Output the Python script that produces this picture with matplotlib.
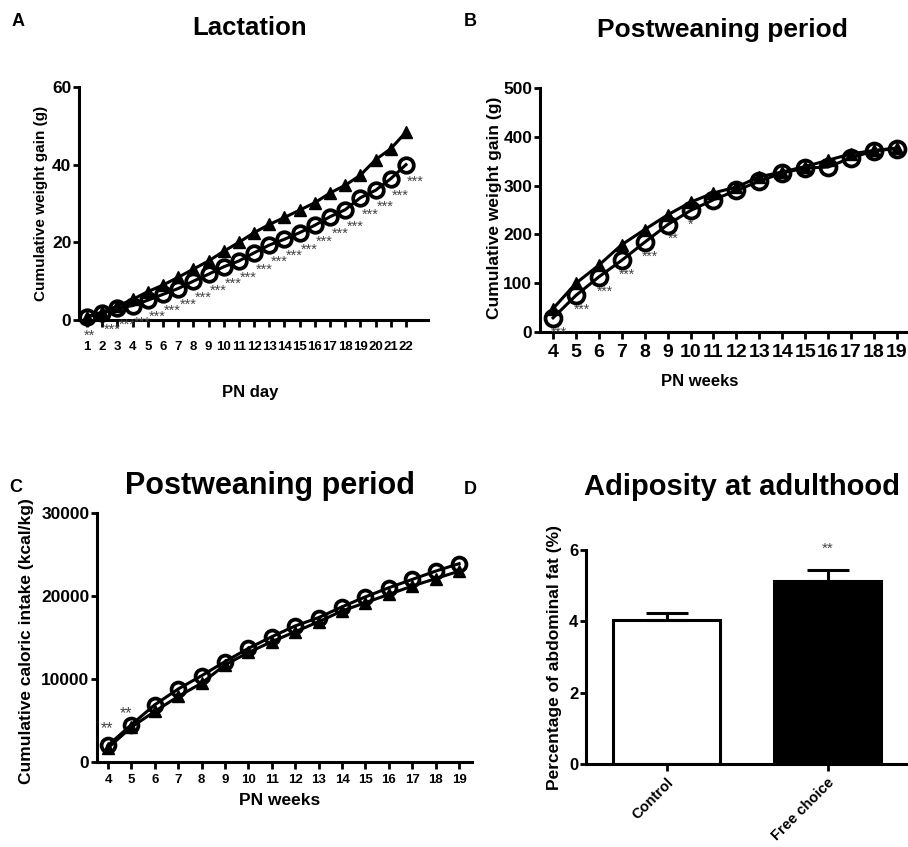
import numpy as np
import matplotlib
matplotlib.use("Agg")
import matplotlib.pyplot as plt

plt.rcParams['font.family'] = ['Liberation Sans', 'DejaVu Sans']
plt.rcParams['font.weight'] = 'bold'

#-------------------- data --------------------

# A: lactation, cumulative weight gain (g)
days = np.arange(1, 23)
lact_ctrl = [0.8, 1.7, 3.0, 3.7, 5.1, 6.6, 8.1, 10.0, 11.8, 13.7, 15.2, 17.3,
             19.3, 20.8, 22.5, 24.4, 26.6, 28.4, 31.5, 33.4, 36.4, 40.0]
lact_free = [0.9, 2.0, 3.6, 5.3, 7.3, 9.0, 11.0, 13.1, 15.2, 17.7, 20.0, 22.5,
             24.6, 26.4, 28.3, 30.2, 32.7, 34.7, 37.3, 41.3, 44.1, 48.4]
lact_sig = ['**'] + ['***'] * 21

# B: postweaning weight gain (g)
weeks = np.arange(4, 20)
pw_ctrl = [29, 75, 113, 147, 184, 220, 249, 271, 290, 309, 326, 336, 338, 357, 371, 376]
pw_free = [48, 100, 137, 179, 210, 240, 266, 285, 297, 318, 328, 339, 352, 365, 372, 377]
pw_sig = ['***', '***', '***', '***', '***', '**', '*']

# C: postweaning caloric intake (kcal/kg)
kcal_ctrl = [2000, 4500, 6900, 8800, 10400, 12100, 13700, 15100, 16400, 17400,
             18700, 19900, 21000, 22000, 23000, 23900]
kcal_free = [1700, 4200, 6100, 7900, 9500, 11700, 13200, 14500, 15700, 16900,
             18200, 19200, 20200, 21200, 22100, 23000]
kcal_sig = ['**', '**']

# D: adiposity
groups = ['Control', 'Free choice']
fat = [4.05, 5.12]
fat_sem = [0.17, 0.32]
fat_sig = ['', '**']

W, H = 908, 847
STAR = '#444444'

def box(l, t, r, b):
    return [l / W, 1 - b / H, (r - l) / W, (b - t) / H]

def ftext(x, y, s, **kw):
    fig.text(x / W, 1 - y / H, s, ha='center', va='center', **kw)

def style(ax):
    for s in ['top', 'right']:
        ax.spines[s].set_visible(False)
    for s in ['left', 'bottom']:
        ax.spines[s].set_linewidth(2.2)
    ax.tick_params(width=2, length=5, direction='out')
    ax.tick_params(axis='y', length=4, pad=1.5)

def lines(ax, x, c, f, ms_c=11, ms_t=9):
    ax.plot(x, f, '-^', color='black', lw=2.2, ms=ms_t, clip_on=False, zorder=3)
    ax.plot(x, c, '-o', color='black', lw=2.2, ms=ms_c, mfc='none', mew=2.7,
            clip_on=False, zorder=4)

fig = plt.figure(figsize=(W / 100, H / 100), dpi=100)

#-------------------- A --------------------
axA = fig.add_axes(box(79, 87, 428, 320))
style(axA)
lines(axA, days, lact_ctrl, lact_free, ms_c=10.5, ms_t=8.5)
axA.set_xlim(0.47, 23.45)
axA.set_ylim(0, 60)
axA.set_xticks(days)
axA.set_xticklabels([str(d) for d in days], fontsize=9.5, fontweight='bold')
axA.set_yticks([0, 20, 40, 60])
axA.tick_params(axis='y', labelsize=12.5)
axA.tick_params(axis='x', pad=10)
for d, v, s in zip(days, lact_ctrl, lact_sig):
    off = (7, -12) if s == '***' else (1.5, -13.5)
    axA.annotate(s, (d, v), xytext=off, textcoords='offset points',
                 ha='center', va='center', fontsize=10.5, color=STAR, fontweight='normal')
ftext(41, 203, 'Cumulative weight gain (g)', rotation=90, fontsize=11)
ftext(250, 392, 'PN day', fontsize=12)
ftext(250, 28, 'Lactation', fontsize=18.5)
ftext(18, 21, 'A', fontsize=13)

#-------------------- B --------------------
axB = fig.add_axes(box(540, 88, 906, 332))
style(axB)
lines(axB, weeks, pw_ctrl, pw_free, ms_c=11.5, ms_t=9)
axB.set_xlim(3.43, 19.4)
axB.set_ylim(0, 500)
axB.set_xticks(weeks)
axB.tick_params(axis='x', labelsize=14)
axB.tick_params(axis='y', labelsize=12.5)
for w, v, s in zip(weeks, pw_ctrl, pw_sig):
    dx = 0 if s == '*' else 4
    axB.annotate(s, (w, v), xytext=(dx, -10.5), textcoords='offset points',
                 ha='center', va='center', fontsize=10, color=STAR, fontweight='normal')
ftext(495, 208, 'Cumulative weight gain (g)', rotation=90, fontsize=12.5)
ftext(700, 381, 'PN weeks', fontsize=12)
ftext(722, 30, 'Postweaning period', fontsize=19)
ftext(470, 21, 'B', fontsize=13)

#-------------------- C --------------------
axC = fig.add_axes(box(97, 513, 472, 762))
style(axC)
lines(axC, weeks, kcal_ctrl, kcal_free, ms_c=10, ms_t=8)
axC.set_xlim(3.53, 19.55)
axC.set_ylim(0, 30000)
axC.set_xticks(weeks)
axC.set_yticks([0, 10000, 20000, 30000])
axC.tick_params(axis='x', labelsize=9.5)
axC.tick_params(axis='y', labelsize=12.5)
for w, v, s, off in zip(weeks, kcal_ctrl, kcal_sig, [(-1, 12), (-4, 8)]):
    axC.annotate(s, (w, v), xytext=off, textcoords='offset points',
                 ha='center', va='center', fontsize=11.5, color=STAR, fontweight='normal')
ftext(27, 641, 'Cumulative caloric intake (kcal/kg)', rotation=90, fontsize=12.5)
ftext(280, 800, 'PN weeks', fontsize=12.5)
ftext(270, 486, 'Postweaning period', fontsize=22)
ftext(16, 487, 'C', fontsize=13)

#-------------------- D --------------------
axD = fig.add_axes(box(586, 550, 908, 764))
style(axD)
pos = np.arange(len(groups))
axD.bar(pos, fat, width=0.67, color=['white', 'black'], edgecolor='black', linewidth=2.2)
axD.errorbar(pos, fat, yerr=[[0, 0], fat_sem], fmt='none', ecolor='black',
             elinewidth=2.2, capsize=15, capthick=2.2)
for p, v, e, s in zip(pos, fat, fat_sem, fat_sig):
    if s:
        axD.text(p, v + e + 0.6, s, ha='center', va='center', fontsize=11,
                 color=STAR, fontweight='normal')
axD.set_xlim(-0.5, 1.5)
axD.set_ylim(0, 6)
axD.set_yticks([0, 2, 4, 6])
axD.set_xticks(pos)
axD.set_xticklabels(groups, rotation=45, ha='right', rotation_mode='anchor', fontsize=10.5)
axD.tick_params(axis='y', labelsize=12)
ftext(555, 657, 'Percentage of abdominal fat (%)', rotation=90, fontsize=12.5)
ftext(742, 487, 'Adiposity at adulthood', fontsize=21)
ftext(470, 489, 'D', fontsize=13)

fig.savefig('out.png', dpi=100)
